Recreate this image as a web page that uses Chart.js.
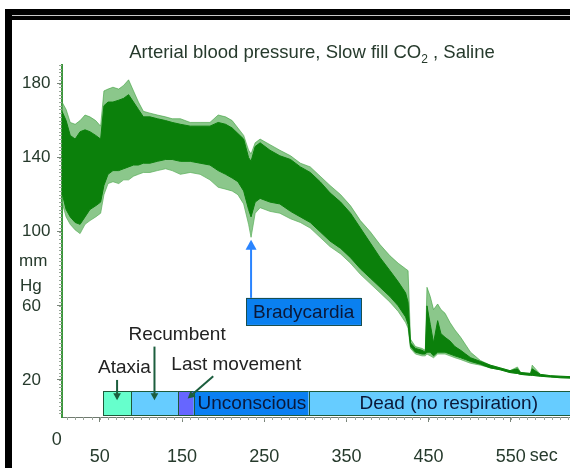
<!DOCTYPE html>
<html>
<head>
<meta charset="utf-8">
<script src="https://cdn.jsdelivr.net/npm/chart.js@4.4.0/dist/chart.umd.min.js"></script>
<style>
  html, body { margin: 0; padding: 0; background: #fff; }
  #wrap { width: 570px; height: 468px; }
</style>
</head>
<body>
<div id="wrap"><canvas id="bp" width="570" height="468"></canvas></div>
<script>
// sample times (sec)
const seconds = [4, 9, 14, 20, 26, 32, 38, 45, 51, 55, 60, 66, 73, 79, 85, 91, 97, 103, 111, 120,
  130, 138, 148, 160, 172, 184, 194, 203, 211, 218, 225, 231, 234, 239, 245, 257, 269, 282, 294, 306,
  318, 330, 343, 355, 367, 379, 391, 403, 413, 422, 425, 428, 434, 442, 446, 448, 452, 456, 461, 465,
  470, 476, 482, 489, 495, 501, 513, 525, 537, 549, 558, 562, 574, 576, 586, 598, 610, 622];

// dense (dark) part of the pulse trace, mm Hg
const pulseTop = [165, 160, 152, 150, 154, 155, 154, 152, 150, 168, 170, 170, 171, 172, 174, 170, 166, 162, 162, 161,
  160, 159, 158, 157, 157, 157, 159, 158, 156, 153, 150, 140, 138, 146, 148, 144, 141, 139, 135, 132,
  127, 121, 116, 110, 102, 94, 86, 79, 73, 67, 62, 40, 37, 36, 35, 60, 50, 40, 52, 45,
  43, 41, 38, 36, 34, 32, 30, 28, 26.5, 25, 26, 24, 23.5, 26, 23, 22.3, 22, 21.8];
const pulseBottom = [121, 112, 108, 105, 104, 108, 112, 114, 116, 125, 131, 133, 133, 134, 135, 136, 136, 137, 137, 138,
  139, 139, 138, 138, 137, 136, 133, 131, 129, 127, 122, 112, 108, 116, 118, 116, 115, 111, 108, 105,
  100, 95, 91, 86, 80, 75, 70, 65, 60, 54, 50, 38, 35, 34, 34, 35, 35, 33, 35, 35,
  35, 34, 33, 32, 31, 30, 28.5, 26.5, 25.5, 24, 23.5, 23, 22.5, 22.5, 22, 21.6, 21.2, 21];

// lighter single-beat spikes around it
const spikeTop = [170, 166, 159, 158, 160, 163, 162, 160, 157, 176, 177, 178, 177, 179, 182, 176, 170, 165, 164, 163,
  162, 161, 161, 159, 159, 159, 163, 162, 160, 156, 152, 144, 142, 148, 150, 147, 144, 141, 137, 135,
  130, 125, 120, 114, 106, 100, 93, 87, 83, 80, 79, 42, 38, 37, 36, 70, 65, 58, 61, 58,
  56, 51, 47, 43, 39, 35, 30.5, 28, 26.5, 25, 27, 24, 23.5, 28, 23, 22.3, 22, 21.8];
const spikeBottom = [116, 108, 104, 101, 99, 104, 106, 108, 110, 120, 126, 127, 126, 128, 128, 130, 131, 132, 132, 133,
  134, 133, 131, 132, 131, 128, 124, 123, 122, 120, 115, 104, 97, 110, 113, 111, 110, 107, 105, 102,
  97, 92, 88, 83, 77, 72, 67, 62, 57, 51, 48, 37, 34, 33, 33, 34, 33, 32, 34, 34,
  34, 33, 32, 31, 30, 29, 28, 26.5, 25.5, 24, 23.5, 23, 22.5, 22.5, 22, 21.6, 21.2, 21];

const xTicks = [50, 150, 250, 350, 450, 550];
const yTicks = [20, 60, 100, 140, 180];

// behavioural phases (sec)
const eventNames = ['Ataxia', 'Recumbent', 'Last movement', 'Unconscious', 'Dead (no respiration)'];
const eventStart = [54, 88, 145, 164, 304];
const eventEnd = [88, 145, 164, 304, 645];

const FONT = '"Liberation Sans", Arial, Helvetica, sans-serif';
const TEXT = '#263a2c';

function toPoints(vals) {
  return seconds.map((s, i) => ({ x: s, y: vals[i] }));
}

function arrow(ctx, x1, y1, x2, y2, color, head) {
  const ang = Math.atan2(y2 - y1, x2 - x1);
  ctx.save();
  ctx.strokeStyle = color;
  ctx.fillStyle = color;
  ctx.lineWidth = 2;
  ctx.beginPath();
  ctx.moveTo(x1, y1);
  ctx.lineTo(x2 - Math.cos(ang) * head * 0.8, y2 - Math.sin(ang) * head * 0.8);
  ctx.stroke();
  ctx.beginPath();
  ctx.moveTo(x2, y2);
  ctx.lineTo(x2 - head * Math.cos(ang) + head * 0.55 * Math.sin(ang), y2 - head * Math.sin(ang) - head * 0.55 * Math.cos(ang));
  ctx.lineTo(x2 - head * Math.cos(ang) - head * 0.55 * Math.sin(ang), y2 - head * Math.sin(ang) + head * 0.55 * Math.cos(ang));
  ctx.closePath();
  ctx.fill();
  ctx.restore();
}

// frame, title and axis extras
const decorPlugin = {
  id: 'decor',
  beforeDraw(chart) {
    const { ctx } = chart;
    ctx.save();
    ctx.fillStyle = '#fff';
    ctx.fillRect(0, 0, chart.width, chart.height);
    // black frame at top and left
    ctx.fillStyle = '#000';
    ctx.fillRect(5, 9, chart.width - 5, 11);
    ctx.fillRect(5, 9, 7, chart.height - 9);
    ctx.fillStyle = '#c8c8c8';
    ctx.fillRect(12, 15, chart.width - 12, 1);
    ctx.restore();
  },
  afterDraw(chart) {
    const { ctx, chartArea, scales: { x, y } } = chart;
    ctx.save();

    // minor ticks
    ctx.strokeStyle = '#9aa59a';
    ctx.lineWidth = 1;
    ctx.beginPath();
    for (let v = 2; v <= 190; v += 2) {
      const py = Math.round(y.getPixelForValue(v)) + 0.5;
      ctx.moveTo(chartArea.left - 3, py);
      ctx.lineTo(chartArea.left, py);
    }
    for (let t = 10; t <= 620; t += 10) {
      const px = Math.round(x.getPixelForValue(t)) + 0.5;
      ctx.moveTo(px, chartArea.bottom);
      ctx.lineTo(px, chartArea.bottom + 3);
    }
    ctx.stroke();

    // title with subscript
    const cx = 312;
    const base = 58;
    const p1 = 'Arterial blood pressure, Slow fill CO';
    const p2 = '2';
    const p3 = ' , Saline';
    ctx.fillStyle = TEXT;
    ctx.textBaseline = 'alphabetic';
    ctx.textAlign = 'left';
    ctx.font = '18.5px ' + FONT;
    const w1 = ctx.measureText(p1).width;
    const w3 = ctx.measureText(p3).width;
    ctx.font = '12px ' + FONT;
    const w2 = ctx.measureText(p2).width;
    const sx = cx - (w1 + w2 + w3) / 2;
    ctx.font = '18.5px ' + FONT;
    ctx.fillText(p1, sx, base);
    ctx.font = '12px ' + FONT;
    ctx.fillText(p2, sx + w1, base + 5);
    ctx.font = '18.5px ' + FONT;
    ctx.fillText(p3, sx + w1 + w2, base);

    // axis units and origin label
    ctx.font = '17px ' + FONT;
    ctx.textBaseline = 'middle';
    ctx.fillText('mm', y.left - 3, y.getPixelForValue(84));
    ctx.fillText('Hg', y.left - 2, y.getPixelForValue(70.5));
    ctx.textAlign = 'center';
    ctx.font = '18px ' + FONT;
    ctx.fillText('0', x.getPixelForValue(0) - 2, 440);
    ctx.textAlign = 'left';
    const last = xTicks[xTicks.length - 1];
    const lw = ctx.measureText(String(last)).width;
    ctx.fillText('sec', x.getPixelForValue(last) + lw / 2 + 4, 456);

    // phase bar
    const yTop = y.getPixelForValue(14);
    const yBot = y.getPixelForValue(1);
    const fills = ['#66ffcc', '#66ccff', '#6666ff', '#0a80f2', '#66ccff'];
    eventNames.forEach((name, i) => {
      const a = x.getPixelForValue(eventStart[i]);
      const b = x.getPixelForValue(eventEnd[i]);
      ctx.fillStyle = fills[i];
      ctx.fillRect(a, yTop, b - a, yBot - yTop);
      ctx.strokeStyle = '#1d5a3a';
      ctx.lineWidth = 1;
      ctx.strokeRect(Math.round(a) + 0.5, Math.round(yTop) + 0.5, Math.round(b - a), Math.round(yBot - yTop));
    });
    ctx.fillStyle = '#0b1838';
    ctx.font = '19px ' + FONT;
    ctx.textBaseline = 'middle';
    const midY = (yTop + yBot) / 2 + 1;
    ctx.textAlign = 'left';
    ctx.fillText(eventNames[3], x.getPixelForValue(eventStart[3]) + 4, midY);
    ctx.textAlign = 'center';
    ctx.fillText(eventNames[4], x.getPixelForValue((eventStart[4] + eventEnd[4]) / 2), midY);

    // phase call-outs
    const green = '#1c5e3e';
    ctx.fillStyle = '#222';
    ctx.fillText(eventNames[0], x.getPixelForValue(80), y.getPixelForValue(26.5));
    ctx.fillText(eventNames[1], x.getPixelForValue(144), y.getPixelForValue(44.3));
    ctx.fillText(eventNames[2], x.getPixelForValue(216), y.getPixelForValue(28));
    const mid = i => x.getPixelForValue((eventStart[i] + eventEnd[i]) / 2);
    arrow(ctx, mid(0), y.getPixelForValue(20), mid(0), y.getPixelForValue(9), green, 7);
    arrow(ctx, mid(1), y.getPixelForValue(38), mid(1), y.getPixelForValue(9), green, 7);
    arrow(ctx, x.getPixelForValue(188), y.getPixelForValue(22), mid(2) + 2, y.getPixelForValue(10), green, 7);

    // bradycardia marker
    const bx1 = x.getPixelForValue(228), bx2 = x.getPixelForValue(368);
    const by1 = y.getPixelForValue(64.3), by2 = y.getPixelForValue(49.7);
    ctx.fillStyle = '#0a80f0';
    ctx.fillRect(bx1, by1, bx2 - bx1, by2 - by1);
    ctx.strokeStyle = '#1a4f4f';
    ctx.strokeRect(Math.round(bx1) + 0.5, Math.round(by1) + 0.5, Math.round(bx2 - bx1), Math.round(by2 - by1));
    ctx.fillStyle = '#0b1838';
    ctx.fillText('Bradycardia', (bx1 + bx2) / 2, (by1 + by2) / 2 + 1);
    arrow(ctx, x.getPixelForValue(234), by1, x.getPixelForValue(234), y.getPixelForValue(95.7), '#2a84ff', 10);

    ctx.restore();
  }
};

new Chart(document.getElementById('bp'), {
  type: 'line',
  data: {
    datasets: [
      { data: toPoints(pulseTop), borderColor: '#0b800b', borderWidth: 1, backgroundColor: '#0b800b', fill: '+1', pointRadius: 0 },
      { data: toPoints(pulseBottom), borderColor: '#0b800b', borderWidth: 1, fill: false, pointRadius: 0 },
      { data: toPoints(spikeTop), borderColor: 'rgba(60,160,60,0.6)', borderWidth: 1, backgroundColor: 'rgba(90,175,90,0.7)', fill: '+1', pointRadius: 0 },
      { data: toPoints(spikeBottom), borderColor: 'rgba(60,160,60,0.6)', borderWidth: 1, fill: false, pointRadius: 0 }
    ]
  },
  options: {
    responsive: false,
    animation: false,
    layout: { padding: { left: 22, top: 65, right: 0, bottom: 0 } },
    plugins: { legend: { display: false }, tooltip: { enabled: false }, title: { display: false } },
    scales: {
      x: {
        type: 'linear',
        min: 4,
        max: 622,
        afterFit: s => { s.height = 51; },
        afterBuildTicks: s => { s.ticks = xTicks.map(v => ({ value: v })); },
        grid: { display: true, drawOnChartArea: false, drawTicks: true, tickLength: 5, color: '#7a857a' },
        border: { display: true, color: '#6f7a6f', width: 1 },
        ticks: { color: TEXT, font: { family: FONT, size: 18 }, padding: 24, maxRotation: 0, autoSkip: false }
      },
      y: {
        min: 0,
        max: 190,
        afterFit: s => { s.width = 40; },
        afterBuildTicks: s => { s.ticks = yTicks.map(v => ({ value: v })); },
        grid: { display: true, drawOnChartArea: false, drawTicks: true, tickLength: 5, color: '#7a857a' },
        border: { display: true, color: '#3c963c', width: 2 },
        ticks: { color: TEXT, font: { family: FONT, size: 17 }, crossAlign: 'far', padding: 4 }
      }
    }
  },
  plugins: [decorPlugin]
});
</script>
</body>
</html>
